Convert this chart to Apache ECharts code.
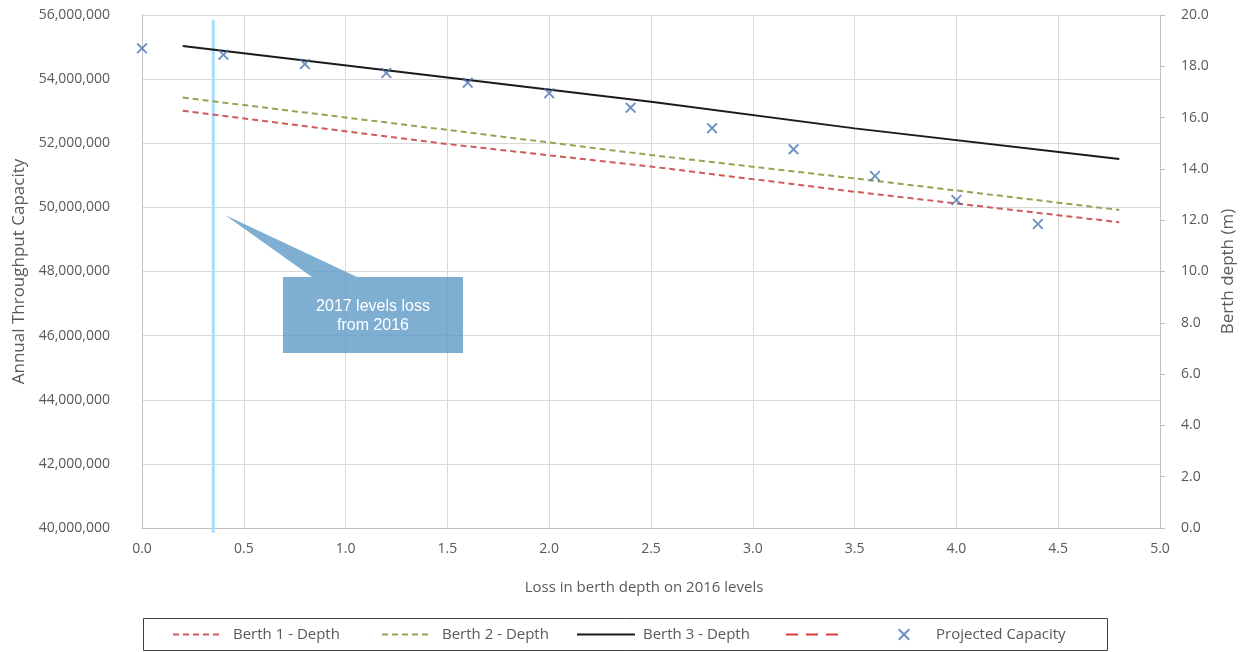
<!DOCTYPE html>
<html>
<head>
<meta charset="utf-8">
<style>
  html, body { margin: 0; padding: 0; background: #ffffff; }
  #chart { width: 1246px; height: 652px; }
</style>
<script src="https://cdn.jsdelivr.net/npm/echarts@6/dist/echarts.min.js"></script>
</head>
<body>
<div id="chart"></div>
<script>
// Loss in berth depth (m) sampled along the berth depth lines
const depthLoss = [0.2, 1.5, 2.5, 3.5, 4.8];
const berth1Depth = [16.27, 14.97, 14.09, 13.11, 11.92];
const berth2Depth = [16.78, 15.52, 14.54, 13.63, 12.40];
const berth3Depth = [18.79, 17.56, 16.62, 15.58, 14.39];

// Projected annual throughput capacity for each loss step
const capacityLoss = [0.0, 0.4, 0.8, 1.2, 1.6, 2.0, 2.4, 2.8, 3.2, 3.6, 4.0, 4.4];
const projectedCapacity = [54960000, 54760000, 54470000, 54190000, 53890000, 53560000,
                           53110000, 52470000, 51810000, 50980000, 50230000, 49480000];

// Loss level reached in 2017
const loss2017 = 0.35;

// Axis ranges and tick steps
const xTicks = { min: 0, max: 5, interval: 0.5 };
const capacityTicks = { min: 40000000, max: 56000000, interval: 2000000 };
const depthTicks = { min: 0, max: 20, interval: 2 };

const TEXT = '#595959';
const FONT = '"Open Sans", "Liberation Sans", sans-serif';
const GRID = '#d9d9d9';

const pairs = (xs, ys) => xs.map((x, i) => [x, ys[i]]);

const chart = echarts.init(document.getElementById('chart'), null, { renderer: 'canvas' });

// one legend block per entry so each sits at its own spot in the frame
function legendAt(name, left, itemWidth, gap, hideSymbol) {
  const lg = {
    data: [name],
    left: left,
    top: 627,
    padding: 0,
    itemWidth: itemWidth,
    itemHeight: 12,
    selectedMode: false,
    textStyle: { color: TEXT, fontFamily: FONT, fontSize: 15, padding: [0, 0, 0, gap] }
  };
  if (hideSymbol) lg.itemStyle = { opacity: 0 };
  return lg;
}

const option = {
  backgroundColor: '#ffffff',
  animation: false,
  grid: { left: 142, right: 86, top: 15, bottom: 124, containLabel: false },
  xAxis: {
    type: 'value',
    min: xTicks.min, max: xTicks.max, interval: xTicks.interval,
    name: 'Loss in berth depth on 2016 levels',
    nameLocation: 'middle',
    nameGap: 52,
    nameTextStyle: { color: TEXT, fontFamily: FONT, fontSize: 15, padding: [0, 14, 0, 0] },
    axisLine: { lineStyle: { color: '#bfbfbf', width: 1 } },
    axisTick: { show: false },
    axisLabel: { color: TEXT, fontFamily: FONT, fontSize: 14, margin: 14,
                 formatter: v => v.toFixed(1) },
    splitLine: { show: true, lineStyle: { color: GRID, width: 1 } }
  },
  yAxis: [
    {
      type: 'value',
      position: 'left',
      min: capacityTicks.min, max: capacityTicks.max, interval: capacityTicks.interval,
      name: 'Annual Throughput Capacity',
      nameLocation: 'middle',
      nameGap: 113,
      nameTextStyle: { color: TEXT, fontFamily: FONT, fontSize: 17 },
      axisLine: { show: true, lineStyle: { color: '#bfbfbf', width: 1 } },
      axisTick: { show: false },
      axisLabel: { color: TEXT, fontFamily: FONT, fontSize: 14, margin: 32,
                   formatter: v => v.toLocaleString('en-US') },
      splitLine: { show: true, lineStyle: { color: GRID, width: 1 } }
    },
    {
      type: 'value',
      position: 'right',
      min: depthTicks.min, max: depthTicks.max, interval: depthTicks.interval,
      name: 'Berth depth (m)',
      nameLocation: 'middle',
      nameGap: 59,
      nameRotate: 90,
      nameTextStyle: { color: TEXT, fontFamily: FONT, fontSize: 17 },
      axisLine: { show: true, lineStyle: { color: '#bfbfbf', width: 1 } },
      axisTick: { show: true, inside: false, length: 5, lineStyle: { color: '#bfbfbf' } },
      axisLabel: { color: TEXT, fontFamily: FONT, fontSize: 14, margin: 21,
                   formatter: v => v.toFixed(1) },
      splitLine: { show: false }
    }
  ],
  legend: [
    legendAt('Berth 1 - Depth', 172, 48, 7, true),
    legendAt('Berth 2 - Depth', 381, 48, 7, true),
    legendAt('Berth 3 - Depth', 576, 58, 3, true),
    legendAt(' ', 785, 54, 0, true),
    legendAt('Projected Capacity', 898, 14, 20, false)
  ],
  series: [
    {
      name: 'Berth 1 - Depth',
      type: 'line',
      yAxisIndex: 1,
      symbol: 'none',
      data: pairs(depthLoss, berth1Depth),
      lineStyle: { color: '#cd5c5a', width: 2, type: [6, 4] },
      itemStyle: { color: '#cd5c5a' },
      z: 3
    },
    {
      name: 'Berth 2 - Depth',
      type: 'line',
      yAxisIndex: 1,
      symbol: 'none',
      data: pairs(depthLoss, berth2Depth),
      lineStyle: { color: '#8fa752', width: 2, type: [6, 4] },
      itemStyle: { color: '#8fa752' },
      z: 3
    },
    {
      name: 'Berth 3 - Depth',
      type: 'line',
      yAxisIndex: 1,
      symbol: 'none',
      data: pairs(depthLoss, berth3Depth),
      lineStyle: { color: '#1a1a1a', width: 2 },
      itemStyle: { color: '#1a1a1a' },
      z: 3
    },
    {
      name: ' ',
      type: 'line',
      yAxisIndex: 1,
      symbol: 'none',
      data: [],
      lineStyle: { color: '#e0393b', width: 3, type: [12, 8] },
      itemStyle: { color: '#e0393b' }
    },
    {
      name: 'Projected Capacity',
      type: 'scatter',
      yAxisIndex: 0,
      symbol: 'path://M0,1.2 L1.2,0 L5,3.8 L8.8,0 L10,1.2 L6.2,5 L10,8.8 L8.8,10 L5,6.2 L1.2,10 L0,8.8 L3.8,5 Z',
      symbolSize: 11,
      data: pairs(capacityLoss, projectedCapacity),
      itemStyle: { color: '#4a74b4' },
      z: 4
    },
    {
      name: 'loss2017',
      type: 'line',
      yAxisIndex: 0,
      symbol: 'none',
      clip: false,
      silent: true,
      data: [[loss2017, 55850000], [loss2017, 39850000]],
      lineStyle: { color: '#a8dcfb', width: 3 },
      z: 2
    }
  ],
  graphic: [
    // legend frame
    {
      type: 'rect',
      shape: { x: 143.5, y: 618.5, width: 964, height: 32 },
      style: { fill: 'none', stroke: '#404040', lineWidth: 1 },
      z: 0
    },
    // callout pointer and box
    {
      type: 'polygon',
      shape: { points: [[225, 215], [357, 277], [312, 277]] },
      style: { fill: 'rgba(98, 157, 200, 0.82)' },
      z: 5
    },
    {
      type: 'rect',
      shape: { x: 283, y: 277, width: 180, height: 76 },
      style: { fill: 'rgba(98, 157, 200, 0.82)' },
      z: 5
    },
    {
      type: 'text',
      x: 373, y: 316,
      style: {
        text: '2017 levels loss\nfrom 2016',
        fill: '#ffffff',
        font: '16px "Liberation Sans", Arial, sans-serif',
        align: 'center',
        verticalAlign: 'middle',
        lineHeight: 19
      },
      z: 6
    }
  ]
};

chart.setOption(option);
</script>
</body>
</html>
